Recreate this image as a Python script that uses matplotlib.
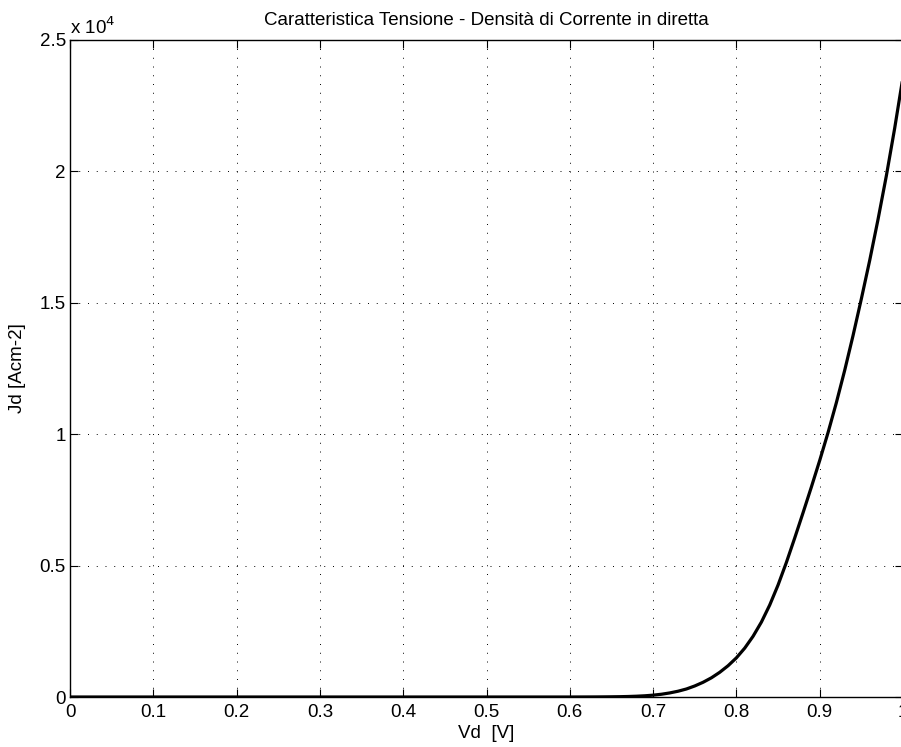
import matplotlib
matplotlib.use("Agg")
import matplotlib.pyplot as plt
from matplotlib.ticker import FuncFormatter

# tensione diretta [V] e densita' di corrente [A/cm2]
vd = [0.0, 0.10, 0.20, 0.30, 0.40, 0.50, 0.60, 0.61, 0.62, 0.63, 0.64,
      0.65, 0.66, 0.67, 0.68, 0.69, 0.70, 0.71, 0.72, 0.73, 0.74,
      0.75, 0.76, 0.77, 0.78, 0.79, 0.80, 0.81, 0.82, 0.83, 0.84,
      0.85, 0.86, 0.87, 0.88, 0.89, 0.90, 0.91, 0.92, 0.93, 0.94,
      0.95, 0.96, 0.97, 0.98, 0.99, 1.00]
jd = [0, 0, 0, 0, 0, 0, 0, 1, 2, 3, 5,
      8, 12, 19, 30, 46, 70, 105, 155, 220, 305,
      420, 560, 730, 940, 1190, 1490, 1860, 2310, 2850, 3500,
      4260, 5120, 6050, 7010, 7990, 9000, 10060, 11200, 12430, 13750,
      15150, 16610, 18170, 19830, 21640, 23600]

x_ticks = [0, 0.1, 0.2, 0.3, 0.4, 0.5, 0.6, 0.7, 0.8, 0.9, 1.0]
x_labels = ["0", "0.1", "0.2", "0.3", "0.4", "0.5", "0.6", "0.7", "0.8", "0.9", "1"]
y_ticks = [0, 5000, 10000, 15000, 20000, 25000]

plt.rcParams['font.family'] = ['Liberation Sans', 'DejaVu Sans']
fs = 13.5

fig = plt.figure(figsize=(9.01, 7.47), dpi=100)
ax = fig.add_axes([70/901, 50/747, 833/901, 657/747])

ax.plot(vd, jd, "-", color="black", linewidth=2.3)

ax.set_xlim(0, 1)
ax.set_ylim(0, 25000)
ax.set_xticks(x_ticks)
ax.set_xticklabels(x_labels)
ax.set_yticks(y_ticks)
ax.yaxis.set_major_formatter(FuncFormatter(lambda v, p: "%g" % (v / 1e4)))
ax.tick_params(direction="in", top=True, right=True, length=6, width=0.8,
               labelsize=fs, colors="black")
ax.tick_params(axis="x", pad=5)
ax.tick_params(axis="y", pad=3)
ax.grid(True, linestyle=(0, (1, 8)), color="black", linewidth=0.7)
for s in ax.spines.values():
    s.set_linewidth(1.0)

ax.text(0, 1.003, r"x 10$^4$", transform=ax.transAxes, fontsize=fs,
        ha="left", va="bottom")
ax.set_title("Caratteristica Tensione - Densità di Corrente in diretta",
             fontsize=fs, pad=11)
ax.set_xlabel("Vd  [V]", fontsize=fs, labelpad=3)
ax.set_ylabel("Jd [Acm-2]", fontsize=fs, labelpad=10)

plt.savefig("out.png", dpi=100)
plt.close('all')
